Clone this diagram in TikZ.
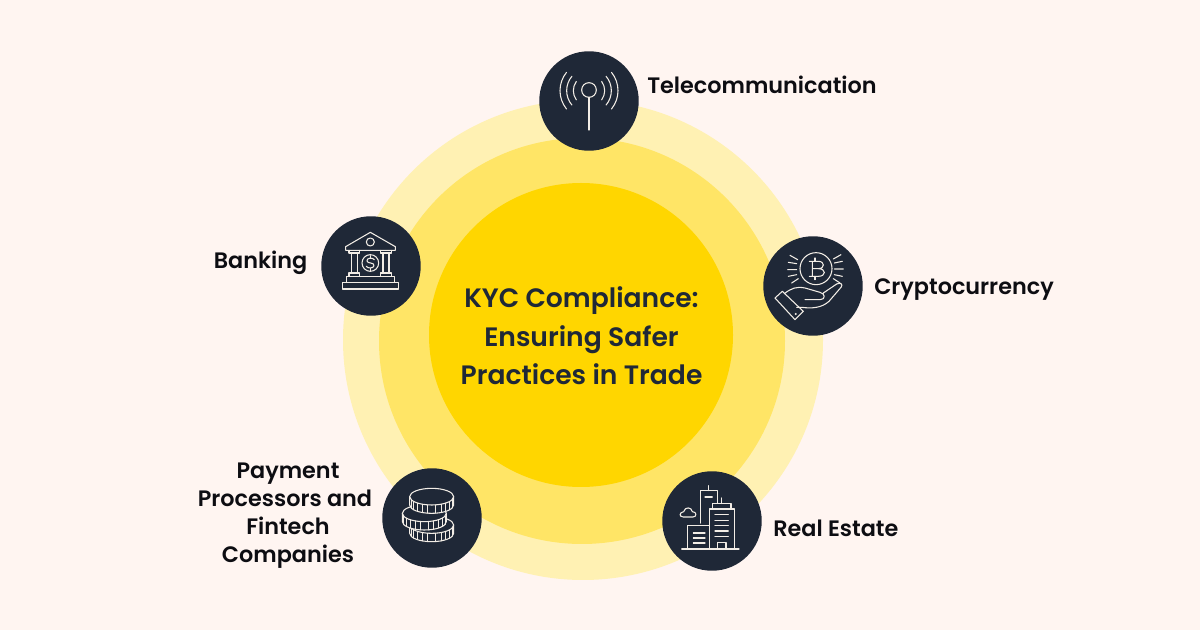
\documentclass[tikz,border=0pt]{standalone}
\usepackage{fontspec}
\setmainfont{Poppins}[UprightFont=* Medium,BoldFont=* SemiBold]
\definecolor{bgc}{HTML}{FFF5F1}
\definecolor{ringa}{HTML}{FFF1B3}
\definecolor{ringb}{HTML}{FFE566}
\definecolor{ringc}{HTML}{FFD600}
\definecolor{dark}{HTML}{1F2837}
\definecolor{ink}{HTML}{F2EDE6}
\definecolor{lab}{HTML}{0D0D12}
\tikzset{
  disc/.style={circle,inner sep=0pt,minimum size=#1*0.75pt},
  badge/.style={circle,fill=dark,inner sep=0pt,minimum size=74.6pt},
  lbl/.style={font=\fontsize{16.75}{21}\selectfont\bfseries,text=lab,inner sep=0pt,align=center},
  ttl/.style={font=\fontsize{19.95}{29}\selectfont\bfseries,text=dark,inner sep=0pt,align=center},
  ic/.style={draw=ink,line width=0.8pt,line cap=round,line join=round},
  zm/.style={x=0.25pt,y=-0.25pt}
}
\begin{document}
\begin{tikzpicture}[x=0.75pt,y=-0.75pt]
\useasboundingbox (0,0) rectangle (1200,630);
\fill[bgc] (0,0) rectangle (1200,630);
\node[disc=480,fill=ringa] (outer) at (583,340) {};
\node[disc=406,fill=ringb] (middle) at (582,341) {};
\node[disc=304,fill=ringc] (inner) at (581,335) {};
\node[ttl] (title) at (581.5,336) {KYC Compliance:\\Ensuring Safer\\Practices in Trade};
\node[badge] (tele) at (589,101) {};
\node[badge] (crypto) at (813,286) {};
\node[badge] (estate) at (712,521) {};
\node[badge] (coins) at (432,518) {};
\node[badge] (bank) at (371,266) {};
\node[lbl,anchor=west] (ltele) at (647,85) {Telecommunication};
\node[lbl,anchor=west] (lcrypto) at (874,290) {Cryptocurrency};
\node[lbl,anchor=west] (lestate) at (773,528) {Real Estate};
\node[lbl,anchor=east] (lbank) at (307.5,263) {Banking};
\node[lbl] (lpay) at (285,516) {\hspace{4.5pt}Payment\\Processors and\\\hspace{4.5pt}Fintech\\\hspace{4.5pt}Companies};
% telecom
\begin{scope}[shift={(530,40)},zm]
\draw[ic] (177,150) circle (22);
\draw[ic] (177,172) -- (177,270);
\foreach \r/\a in {47/36,67/40,87/39}{
  \draw[ic] (177,152) ++(180-\a:\r) arc[start angle=180-\a,end angle=180+\a,radius=\r];
  \draw[ic] (177,152) ++(\a:\r) arc[start angle=\a,end angle=-\a,radius=\r];
}
\end{scope}
% crypto
\begin{scope}[shift={(755,228)},zm]
\draw[ic] (183,122) circle (48);
\draw[ic] (172,100) -- (172,145) (163,100) -- (190,100) .. controls (210,100) and (210,122) .. (190,122) -- (172,122)
 (190,122) .. controls (214,122) and (214,145) .. (190,145) -- (163,145);
\draw[ic] (180,90) -- (180,100) (180,145) -- (180,155);
\draw[ic] (105,82) -- (128,95) (100,103) -- (125,107) (98,125) -- (125,125) (100,145) -- (125,140) (110,165) -- (130,152);
\draw[ic] (258,80) -- (235,93) (262,100) -- (238,105) (265,123) -- (238,123) (262,145) -- (238,140) (255,165) -- (235,152);
\draw[ic] (60,210) -- (82,190) -- (145,250) -- (120,275) -- cycle;
\fill[ink] (122,258) circle (3.5);
\draw[ic] (88,197) .. controls (110,180) and (125,175) .. (150,180) -- (195,193) .. controls (212,197) and (212,215) .. (195,215) -- (150,215)
 (205,195) -- (245,168) .. controls (258,162) and (265,170) .. (258,178) -- (222,220) .. controls (200,240) and (170,242) .. (140,238) -- (125,238);
\end{scope}
% buildings
\begin{scope}[shift={(655,463)},zm]
\draw[ic] (80,258) -- (252,258);
\draw[ic] (98,258) -- (98,188) -- (163,188);
\draw[ic] (115,210) -- (150,210) (115,225) -- (150,225) (115,240) -- (150,240);
\draw[ic] (137,180) -- (137,83) -- (187,83) -- (187,120) (161,83) -- (161,68) (150,102) -- (172,102);
\draw[ic] (163,258) -- (163,138) -- (238,138) -- (238,258);
\draw[ic] (173,138) -- (173,122) -- (228,122) -- (228,138) (200,122) -- (200,105);
\foreach \yy in {155,172,188,204,220}{\draw[ic] (180,\yy) -- (220,\yy);}
\draw[ic] (187,258) -- (187,238) -- (213,238) -- (213,258);
\draw[ic] (85,162) .. controls (72,162) and (72,148) .. (86,146) .. controls (90,130) and (110,132) .. (112,146) .. controls (126,146) and (126,162) .. (114,162) -- cycle;
\end{scope}
% coins
\begin{scope}[shift={(375,460)},zm]
\foreach \cx/\cy in {170/195,148/160,170/110}{
  \filldraw[ic,fill=dark] (\cx-66,\cy) -- (\cx-66,\cy+25) arc[start angle=180,end angle=0,x radius=66,y radius=25] -- (\cx+66,\cy) arc[start angle=0,end angle=-180,x radius=66,y radius=25] -- cycle;
  \draw[ic] (\cx-66,\cy) arc[start angle=180,end angle=0,x radius=66,y radius=25];
  \foreach \a in {20,35,50,65,80,100,115,130,145,160}{
    \draw[ic,line width=0.6pt] ({\cx+66*cos(\a)},{\cy+25*sin(\a)}) -- ++(0,25);
  }
}
\end{scope}
% bank
\begin{scope}[shift={(313,208)},zm]
\draw[ic] (172,73) -- (98,116) -- (98,127) -- (247,127) -- (247,116) -- cycle;
\draw[ic] (172,102) circle (12);
\draw[ic] (108,127) -- (108,135) -- (140,135) -- (140,127) (115,135) -- (115,195) (133,135) -- (133,195) (108,205) -- (108,195) -- (140,195) -- (140,205);
\draw[ic] (203,127) -- (203,135) -- (235,135) -- (235,127) (210,135) -- (210,195) (228,135) -- (228,195) (203,205) -- (203,195) -- (235,195) -- (235,205);
\draw[ic] (172,165) circle (25);
\draw[ic] (184,155) .. controls (178,147) and (160,150) .. (162,159) .. controls (164,168) and (184,162) .. (183,173) .. controls (182,182) and (164,182) .. (160,175);
\draw[ic] (172,143) -- (172,150) (172,181) -- (172,188);
\draw[ic] (100,223) -- (100,205) -- (245,205) -- (245,223);
\draw[ic] (88,223) rectangle (257,243);
\end{scope}
\end{tikzpicture}
\end{document}
